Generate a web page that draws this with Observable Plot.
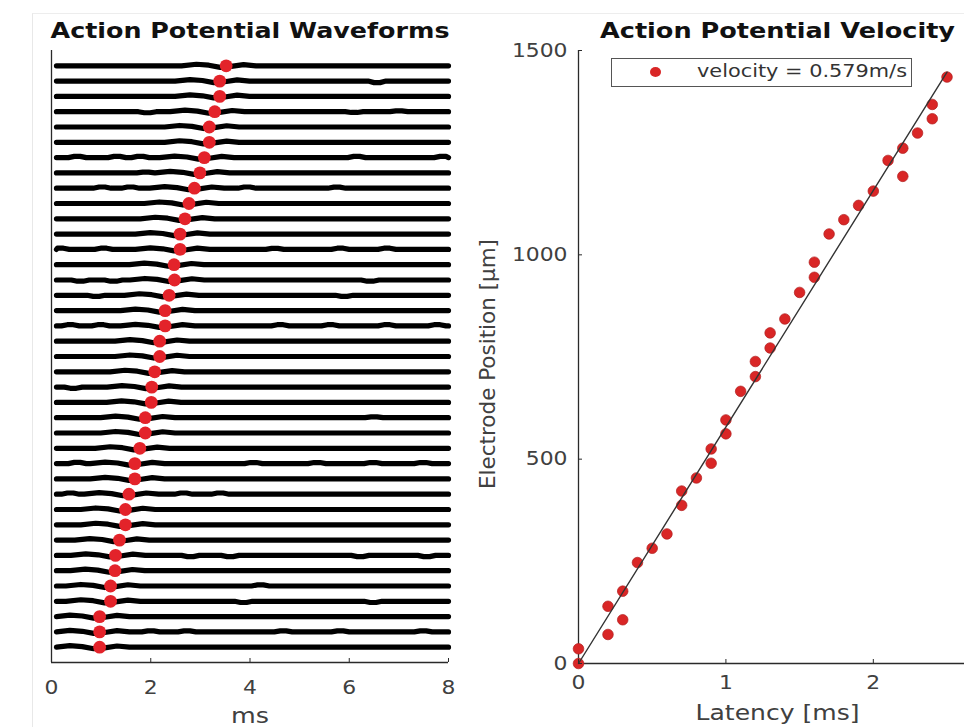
<!DOCTYPE html>
<html><head><meta charset="utf-8">
<script src="https://cdn.jsdelivr.net/npm/d3@7"></script>
<script src="https://cdn.jsdelivr.net/npm/@observablehq/plot@0.6"></script>
<style>
html,body{margin:0;padding:0;background:#fff;overflow:hidden}
#root{position:relative;width:964px;height:727px;overflow:hidden;background:#fff;font-family:"DejaVu Sans",sans-serif}
#root svg{position:absolute;top:0;background:transparent;max-width:none}
#frame{position:absolute;left:32px;top:13px;width:940px;height:720px;border-left:1px solid #e8e8e8;border-top:1px solid #ededed}
#legend{position:absolute;left:611px;top:58px;width:299px;height:27px;border:1.3px solid #555;background:#fff}
#legend .dot{position:absolute;left:38px;top:8px;width:11px;height:10px;border-radius:50%;background:#d92626}
#legend .lab{position:absolute;left:85px;top:1px;font-size:18.5px;color:#333;white-space:nowrap;transform-origin:0 50%}
</style></head><body><div id="root"><div id="frame"></div></div>
<script>
// ---------- data ----------
const leftTitle = "Action Potential Waveforms";
const rightTitle = "Action Potential Velocity";
const leftXLabel = "ms";
const rightXLabel = "Latency [ms]";
const rightYLabel = "Electrode Position [μm]";
const legendLabel = "velocity = 0.579m/s";
const xTicksLeft = [0, 2, 4, 6, 8];
const xTicksRight = [0, 1, 2];
const yTicksRight = [0, 500, 1000, 1500];

// detected AP time (ms) for each waveform, top trace first
const waveLatency = [3.52, 3.39, 3.39, 3.29, 3.18, 3.18, 3.08, 2.99, 2.88, 2.77, 2.69, 2.59, 2.59,
  2.47, 2.48, 2.37, 2.29, 2.29, 2.18, 2.18, 2.08, 2.02, 2.01, 1.89, 1.89, 1.78, 1.68, 1.68,
  1.56, 1.49, 1.49, 1.37, 1.29, 1.28, 1.19, 1.19, 0.97, 0.97, 0.97];
const traceStart = 0.1, traceEnd = 8.0;
// spike deflection around detection time (offset ms, amplitude in trace spacings)
const spikeOffset = [-0.9, -0.6, -0.35, -0.12, 0.1, 0.35, 0.6];
const spikeShape  = [0, 0.1, 0.04, -0.1, -0.04, 0.08, 0];
// visible noise bumps: trace number (1 = top), time (ms), amplitude
const noiseTrace = [2, 4, 4, 4, 7, 7, 7, 7, 7, 8, 9, 9, 9, 9, 13, 13, 13, 13, 13, 13, 15, 15, 15, 16, 16, 16,
  18, 18, 18, 18, 18, 18, 18, 20, 22, 22, 24, 24, 26, 26, 27, 27, 27, 27, 27, 27, 29, 29, 29, 29, 29, 29,
  31, 31, 31, 33, 33, 33, 33, 33, 33, 35, 35, 35, 36, 36, 37, 37, 38, 38, 38, 38, 38, 38, 39, 39];
const noiseTime = [6.56, 1.93, 6.1, 7.0, 0.52, 1.32, 1.79, 6.15, 7.89, 1.9, 1.02, 1.59, 3.94, 5.75, 0.18, 1.05, 1.65, 4.5, 5.82, 6.76,
  0.58, 1.25, 6.42, 0.9, 1.5, 5.9, 0.38, 0.99, 1.52, 4.61, 5.62, 6.76, 7.77, 1.45, 0.44, 1.3, 1.2, 6.5, 1.0, 2.6,
  0.52, 2.3, 4.07, 5.35, 6.48, 7.49, 0.38, 0.72, 0.95, 2.3, 2.66, 3.4, 0.58, 0.85, 2.15, 0.45, 0.7, 2.8, 3.6, 6.22, 7.56,
  0.6, 1.85, 4.21, 3.87, 6.48, 0.5, 1.52, 0.38, 2.0, 2.73, 4.67, 5.82, 7.49, 0.45, 1.5];
const noiseAmp = [-0.1, -0.07, -0.05, 0.05, 0.08, 0.08, 0.08, 0.08, 0.08, 0.05, 0.08, 0.08, 0.08, 0.07, 0.08, 0.08, 0.08, 0.07, 0.08, 0.08,
  -0.08, -0.08, -0.08, -0.07, -0.07, -0.07, 0.08, 0.08, 0.08, 0.08, 0.08, 0.08, 0.08, 0.08, -0.08, 0.07, 0.07, 0.05, 0.07, 0.05,
  0.08, 0.07, 0.07, 0.07, 0.07, 0.07, 0.08, -0.08, 0.07, 0.07, 0.08, 0.08, -0.07, 0.08, 0.07, -0.08, 0.08, -0.08, -0.08, -0.08, -0.08,
  0.07, 0.05, 0.07, -0.08, -0.08, 0.07, 0.07, 0.08, 0.07, 0.07, 0.07, 0.07, 0.07, 0.07, 0.05];

// velocity scatter
const latency = [0, 0, 0.2, 0.2, 0.3, 0.3, 0.4, 0.5, 0.6, 0.7, 0.7, 0.8, 0.9, 0.9, 1.0, 1.0, 1.1, 1.2, 1.2,
  1.3, 1.3, 1.4, 1.5, 1.6, 1.6, 1.7, 1.8, 1.9, 2.0, 2.1, 2.2, 2.2, 2.3, 2.4, 2.4, 2.5];
const position = [0, 36, 71, 140, 107, 177, 247, 282, 317, 387, 422, 454, 490, 525, 562, 596, 666, 702, 739,
  772, 809, 843, 908, 945, 982, 1051, 1086, 1121, 1156, 1231, 1192, 1261, 1298, 1333, 1368, 1435];
const fitLatency = [0, 2.5];
const fitPosition = [0, 1447];

// ---------- build tables ----------
const bumpHalf = 0.18;
const traceRows = [];
waveLatency.forEach((lat, k) => {
  const pts = [{t: traceStart, v: 0}, {t: traceEnd, v: 0}];
  spikeOffset.forEach((o, i) => { const t = lat + o; if (t > traceStart && t < traceEnd) pts.push({t, v: spikeShape[i]}); });
  noiseTrace.forEach((n, i) => {
    if (n - 1 !== k) return;
    const t = noiseTime[i];
    if (Math.abs(t - lat) < 0.95) return;
    [[t - bumpHalf, 0], [t - bumpHalf / 3, noiseAmp[i]], [t + bumpHalf / 3, noiseAmp[i]], [t + bumpHalf, 0]].forEach(([tt, v]) => {
      if (tt > traceStart && tt < traceEnd) pts.push({t: tt, v});
    });
  });
  pts.sort((a, b) => a.t - b.t);
  pts.forEach(p => traceRows.push({trace: k, t: p.t, y: k - p.v}));
});
const spikeDots = waveLatency.map((t, k) => ({t, k}));
const scatter = latency.map((l, i) => ({l, p: position[i]}));
const fit = fitLatency.map((l, i) => ({l, p: fitPosition[i]}));

const axisColor = "#2a2a2a";
const textColor = "#404040";
const fmt = d => `${d}`;
const baseStyle = {background: "transparent", fontFamily: "DejaVu Sans, sans-serif", fontSize: "19px", color: textColor, overflow: "visible"};

const left = Plot.plot({
  width: 470, height: 727, marginLeft: 51, marginRight: 22, marginTop: 50, marginBottom: 65,
  style: baseStyle,
  x: {domain: [0, 8]},
  y: {domain: [-1, 39], reverse: true, axis: null},
  marks: [
    Plot.line(traceRows, {x: "t", y: "y", z: "trace", stroke: "#000", strokeWidth: 5.2, strokeLinejoin: "round"}),
    Plot.dot(spikeDots, {x: "t", y: "k", r: 6.4, fill: "#e3232a"}),
    Plot.ruleX([0], {stroke: axisColor, strokeWidth: 1.3}),
    Plot.ruleY([39], {stroke: axisColor, strokeWidth: 1.3}),
    Plot.axisX({ticks: xTicksLeft, tickFormat: fmt, tickSize: -4, tickPadding: 22, label: null, stroke: axisColor, fill: textColor}),
    Plot.text([leftTitle], {frameAnchor: "top", lineAnchor: "middle", dy: -18.6, fontWeight: "bold", fontSize: 20.5, fill: "#111"}),
    Plot.text([leftXLabel], {frameAnchor: "bottom", lineAnchor: "middle", dy: 54.4, fontSize: 20.5, fill: textColor})
  ]
});

const right = Plot.plot({
  width: 506, height: 727, marginLeft: 108, marginRight: 0, marginTop: 50, marginBottom: 64,
  style: baseStyle,
  x: {domain: [0, 2.7]},
  y: {domain: [0, 1500]},
  marks: [
    Plot.ruleX([0], {stroke: axisColor, strokeWidth: 1.3}),
    Plot.ruleY([0], {stroke: axisColor, strokeWidth: 1.3}),
    Plot.dot(scatter, {x: "l", y: "p", r: 5.3, fill: "#d92626", stroke: "#b01e1e", strokeWidth: 0.7}),
    Plot.line(fit, {x: "l", y: "p", stroke: "#333", strokeWidth: 1.4}),
    Plot.axisX({ticks: xTicksRight, tickFormat: fmt, tickSize: -4, tickPadding: 16, label: null, stroke: axisColor, fill: textColor}),
    Plot.axisY({ticks: yTicksRight, tickFormat: fmt, tickSize: -4, tickPadding: 15, label: null, stroke: axisColor, fill: textColor}),
    Plot.text([rightTitle], {frameAnchor: "top", lineAnchor: "middle", dy: -18.6, fontWeight: "bold", fontSize: 20.5, fill: "#111"}),
    Plot.text([rightXLabel], {frameAnchor: "bottom", lineAnchor: "middle", dy: 50.4, fontSize: 20.5, fill: textColor}),
    Plot.text([rightYLabel], {frameAnchor: "left", textAnchor: "middle", lineAnchor: "middle", rotate: -90, dx: -90, dy: 7, fontSize: 20.5, fill: textColor})
  ]
});

const root = document.getElementById("root");
left.style.left = "0px";
right.style.left = "470px";
root.appendChild(left);
root.appendChild(right);

const legend = document.createElement("div");
legend.id = "legend";
legend.innerHTML = '<div class="dot"></div><div class="lab"></div>';
legend.querySelector(".lab").textContent = legendLabel;
root.appendChild(legend);

// match the reference's wide text rendering
const targets = {};
targets[leftTitle] = 399; targets[rightTitle] = 355; targets[leftXLabel] = 38;
targets[rightXLabel] = 164; targets[rightYLabel] = 250;
for (const svg of [left, right]) {
  svg.querySelectorAll("text").forEach(t => {
    const L = t.getComputedTextLength();
    if (!(L > 0)) return;
    const s = t.textContent;
    const target = targets[s] != null ? targets[s] : L * 1.15;
    t.setAttribute("textLength", target);
    t.setAttribute("lengthAdjust", "spacingAndGlyphs");
  });
}
const lab = legend.querySelector(".lab");
const w = lab.getBoundingClientRect().width;
if (w > 0) lab.style.transform = `scaleX(${210 / w})`;
</script></body></html>
